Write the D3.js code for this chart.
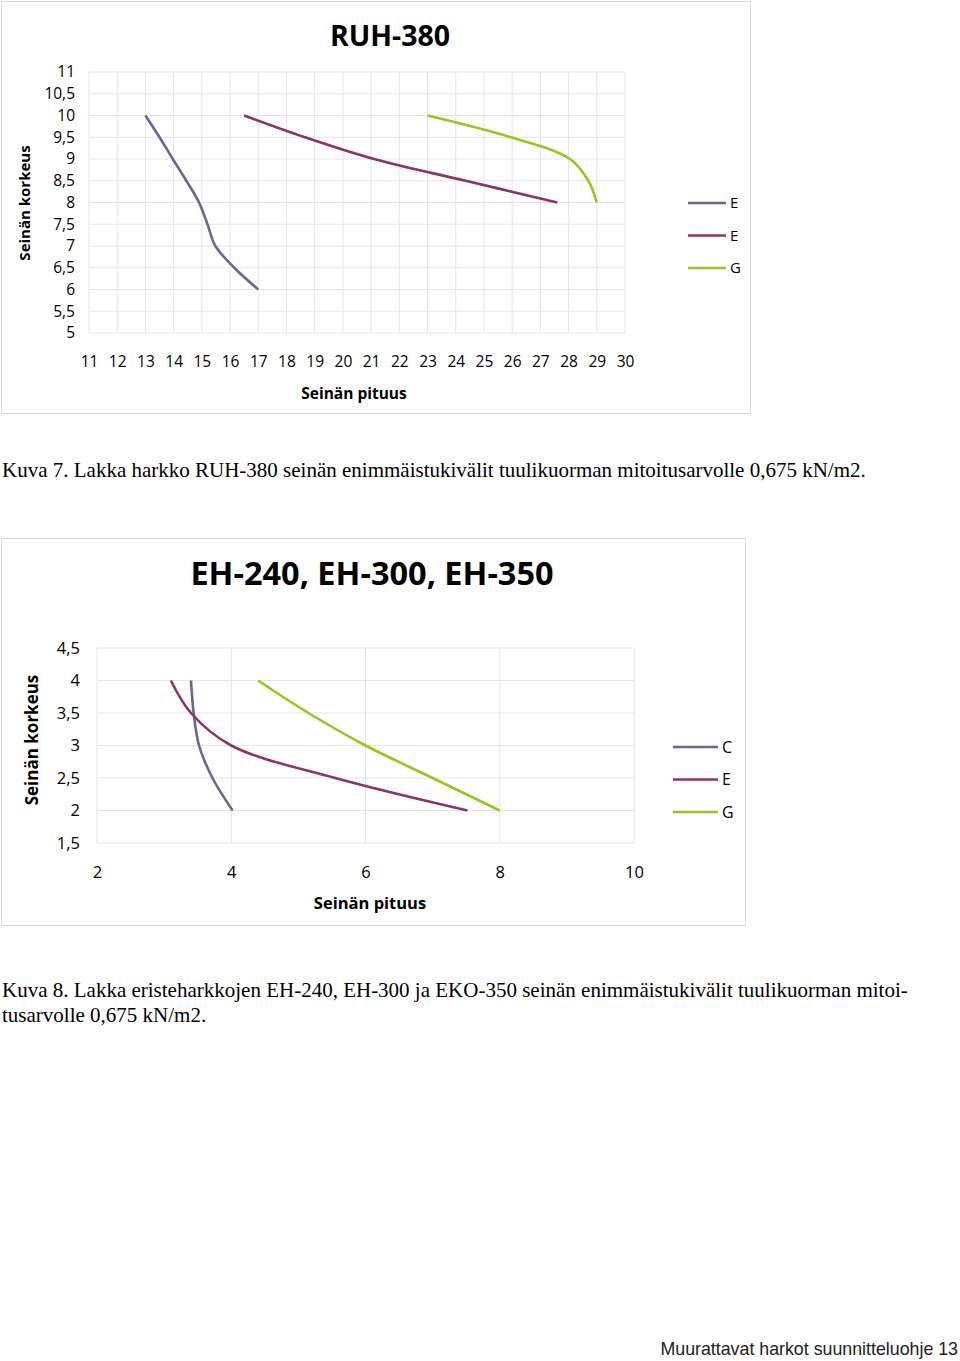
<!DOCTYPE html>
<html>
<head>
<meta charset="utf-8">
<script src="https://cdn.jsdelivr.net/npm/d3@7"></script>
<style>
  body { margin: 0; background: #fff; }
  svg { display: block; }
</style>
</head>
<body>
<div id="app"></div>
<script>
const WIDTH = 960
const HEIGHT = 1361

// RUH-380
const ruhXTicks = d3.range(11, 31)
const ruhYTicks = [5, 5.5, 6, 6.5, 7, 7.5, 8, 8.5, 9, 9.5, 10, 10.5, 11]
const ruhLegend = ['E', 'E', 'G']
const ruhH1 = [10, 9.5, 9, 8.5, 8, 7.5, 7, 6.5, 6]
const ruhL1 = [13, 13.5, 13.97, 14.45, 14.9, 15.2, 15.48, 16.15, 17]
const ruhH2 = [10, 9.5, 9, 8.5, 8]
const ruhL2 = [16.5, 18.65, 21.1, 24.35, 27.6]
const ruhH3 = [10, 9.5, 9, 8.5, 8]
const ruhL3 = [23, 25.95, 28.05, 28.7, 29]

// EH-240, EH-300, EH-350
const ehXTicks = [2, 4, 6, 8, 10]
const ehYTicks = [1.5, 2, 2.5, 3, 3.5, 4, 4.5]
const ehLegend = ['C', 'E', 'G']
const ehH1 = [4, 3.5, 3, 2.5, 2]
const ehL1 = [3.4, 3.44, 3.52, 3.72, 4.02]
const ehH2 = [4, 3.5, 3, 2.5, 2]
const ehL2 = [3.1, 3.4, 4.0, 5.55, 7.52]
const ehH3 = [4, 3.5, 3, 2.5, 2]
const ehL3 = [4.4, 5.15, 6.0, 7.0, 8.0]

const COLORS = ['#666699', '#8b3564', '#99c51f']
const FONT = 'Open Sans, sans-serif'
const comma = d => String(d).replace('.', ',')

const svg = d3.select('#app').append('svg')
  .attr('width', WIDTH)
  .attr('height', HEIGHT)

function drawChart(o) {
  const g = svg.append('g')

  g.append('rect')
    .attr('x', o.frame[0] + .5).attr('y', o.frame[1] + .5)
    .attr('width', o.frame[2]).attr('height', o.frame[3])
    .attr('fill', '#fff').attr('stroke', '#d9d9d9')

  const x = d3.scaleLinear().domain(o.xDomain).range([o.plot[0], o.plot[1]])
  const y = d3.scaleLinear().domain(o.yDomain).range([o.plot[3], o.plot[2]])

  // grid
  g.append('g').selectAll('line.v')
    .data(o.xTicks).enter().append('line')
    .attr('x1', d => x(d)).attr('x2', d => x(d))
    .attr('y1', y.range()[0]).attr('y2', y.range()[1])
    .attr('stroke', '#e4e4e4')
  g.append('g').selectAll('line.h')
    .data(o.yTicks).enter().append('line')
    .attr('y1', d => y(d)).attr('y2', d => y(d))
    .attr('x1', x.range()[0]).attr('x2', x.range()[1])
    .attr('stroke', '#e4e4e4')

  // axes (text only)
  const yAxis = g.append('g')
    .attr('transform', `translate(${o.plot[0] - o.yLabelGap},0)`)
    .call(d3.axisLeft(y).tickValues(o.yTicks).tickFormat(comma).tickSize(0).tickPadding(0))
  const xAxis = g.append('g')
    .attr('transform', `translate(0,${o.plot[3] + o.xLabelGap})`)
    .call(d3.axisBottom(x).tickValues(o.xTicks).tickFormat(comma).tickSize(0).tickPadding(0))
  ;[xAxis, yAxis].forEach(a => {
    a.select('.domain').remove()
    a.selectAll('text').attr('font-family', FONT).attr('font-size', o.tickSize).attr('fill', '#000')
  })

  // lines
  const line = d3.line()
    .x(d => x(d[0])).y(d => y(d[1]))
    .curve(d3.curveCatmullRom.alpha(0.5))
  g.append('g').selectAll('path')
    .data(o.series).enter().append('path')
    .attr('d', d => line(d3.zip(d.l, d.h)))
    .attr('fill', 'none')
    .attr('stroke', (d, i) => COLORS[i])
    .attr('stroke-width', 2.6)

  // titles
  g.append('text')
    .attr('x', o.title[0]).attr('y', o.title[1])
    .attr('text-anchor', 'middle')
    .attr('font-family', FONT).attr('font-weight', 700).attr('font-size', o.title[2])
    .text(o.title[3])
  g.append('text')
    .attr('transform', `translate(${o.yTitle[0]},${o.yTitle[1]}) rotate(-90)`)
    .attr('text-anchor', 'middle')
    .attr('font-family', FONT).attr('font-weight', 700).attr('font-size', o.yTitle[2])
    .text('Seinän korkeus')
  g.append('text')
    .attr('x', o.xTitle[0]).attr('y', o.xTitle[1])
    .attr('text-anchor', 'middle')
    .attr('font-family', FONT).attr('font-weight', 700).attr('font-size', o.xTitle[2])
    .text('Seinän pituus')

  // legend
  const lg = g.append('g').selectAll('g')
    .data(o.legend).enter().append('g')
    .attr('transform', (d, i) => `translate(${o.leg[0]},${o.leg[1] + i * o.leg[2]})`)
  lg.append('line')
    .attr('x1', 0).attr('x2', o.leg[3])
    .attr('stroke', (d, i) => COLORS[i]).attr('stroke-width', 2.6)
  lg.append('text')
    .attr('x', o.leg[3] + 4).attr('dy', '0.36em')
    .attr('font-family', FONT).attr('font-size', o.legSize)
    .text(d => d)
}

drawChart({
  frame: [1, 1, 749, 412],
  plot: [89, 625, 72, 333],
  xDomain: [11, 30], yDomain: [5, 11],
  xTicks: ruhXTicks, yTicks: ruhYTicks,
  yLabelGap: 14, xLabelGap: 23, tickSize: 15.5, legSize: 15,
  series: [{ l: ruhL1, h: ruhH1 }, { l: ruhL2, h: ruhH2 }, { l: ruhL3, h: ruhH3 }],
  title: [390, 46, 28.5, 'RUH-380'],
  yTitle: [30, 203, 15],
  xTitle: [354, 399, 15.5],
  legend: ruhLegend,
  leg: [688, 203, 32.5, 38]
})

drawChart({
  frame: [1, 538, 744, 387],
  plot: [97, 634, 648, 843],
  xDomain: [2, 10], yDomain: [1.5, 4.5],
  xTicks: ehXTicks, yTicks: ehYTicks,
  yLabelGap: 17, xLabelGap: 23, tickSize: 16.5, legSize: 16,
  series: [{ l: ehL1, h: ehH1 }, { l: ehL2, h: ehH2 }, { l: ehL3, h: ehH3 }],
  title: [372, 585, 32.5, 'EH-240, EH-300, EH-350'],
  yTitle: [38, 740, 17],
  xTitle: [370, 909, 16.5],
  legend: ehLegend,
  leg: [673, 747, 32.5, 45]
})

// captions
const SERIF = 'Liberation Serif, serif'
svg.append('text')
  .attr('x', 2).attr('y', 477)
  .attr('font-family', SERIF).attr('font-size', 21)
  .text('Kuva 7. Lakka harkko RUH-380 seinän enimmäistukivälit tuulikuorman mitoitusarvolle 0,675 kN/m2.')
svg.append('text')
  .attr('x', 2).attr('y', 997)
  .attr('font-family', SERIF).attr('font-size', 21)
  .text('Kuva 8. Lakka eristeharkkojen EH-240, EH-300 ja EKO-350 seinän enimmäistukivälit tuulikuorman mitoi-')
svg.append('text')
  .attr('x', 2).attr('y', 1022)
  .attr('font-family', SERIF).attr('font-size', 21)
  .text('tusarvolle 0,675 kN/m2.')

svg.append('text')
  .attr('x', 958).attr('y', 1355)
  .attr('text-anchor', 'end')
  .attr('font-family', 'Liberation Sans, sans-serif').attr('font-size', 17.8)
  .attr('fill', '#222')
  .text('Muurattavat harkot suunnitteluohje 13')
</script>
</body>
</html>
